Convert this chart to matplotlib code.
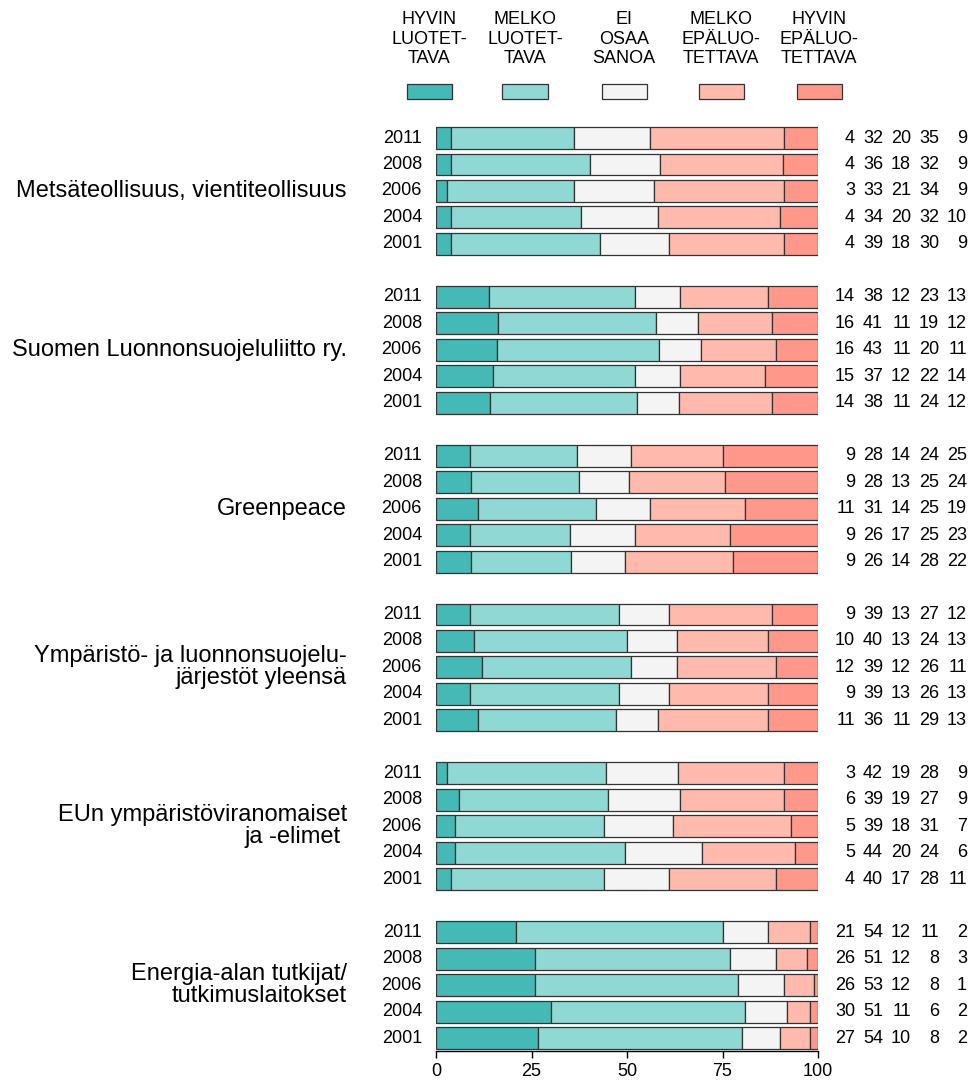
import numpy as np
import matplotlib
matplotlib.use("Agg")
from matplotlib import pyplot as plt
from matplotlib.patches import Rectangle
from matplotlib.transforms import blended_transform_factory

plt.rcParams["font.family"] = ["Liberation Sans", "DejaVu Sans"]

# data
categories = [
    "HYVIN\nLUOTET-\nTAVA",
    "MELKO\nLUOTET-\nTAVA",
    "EI\nOSAA\nSANOA",
    "MELKO\nEPÄLUO-\nTETTAVA",
    "HYVIN\nEPÄLUO-\nTETTAVA",
]
years = ["2011", "2008", "2006", "2004", "2001"]
groups = [
    "Metsäteollisuus, vientiteollisuus",
    "Suomen Luonnonsuojeluliitto ry.",
    "Greenpeace",
    "Ympäristö- ja luonnonsuojelu-\njärjestöt yleensä",
    "EUn ympäristöviranomaiset\nja -elimet ",
    "Energia-alan tutkijat/\ntutkimuslaitokset",
]
metsa = [[4, 32, 20, 35, 9], [4, 36, 18, 32, 9], [3, 33, 21, 34, 9],
         [4, 34, 20, 32, 10], [4, 39, 18, 30, 9]]
sll = [[14, 38, 12, 23, 13], [16, 41, 11, 19, 12], [16, 43, 11, 20, 11],
       [15, 37, 12, 22, 14], [14, 38, 11, 24, 12]]
greenpeace = [[9, 28, 14, 24, 25], [9, 28, 13, 25, 24], [11, 31, 14, 25, 19],
              [9, 26, 17, 25, 23], [9, 26, 14, 28, 22]]
ymparisto = [[9, 39, 13, 27, 12], [10, 40, 13, 24, 13], [12, 39, 12, 26, 11],
             [9, 39, 13, 26, 13], [11, 36, 11, 29, 13]]
eu = [[3, 42, 19, 28, 9], [6, 39, 19, 27, 9], [5, 39, 18, 31, 7],
      [5, 44, 20, 24, 6], [4, 40, 17, 28, 11]]
energia = [[21, 54, 12, 11, 2], [26, 51, 12, 8, 3], [26, 53, 12, 8, 1],
           [30, 51, 11, 6, 2], [27, 54, 10, 8, 2]]
values = [metsa, sll, greenpeace, ymparisto, eu, energia]

colors = ["#45B9B5", "#8FD8D3", "#F4F4F4", "#FFB9AD", "#FF978A"]
edge = "#333333"

W, H = 975, 1086
fig = plt.figure(figsize=(W / 100, H / 100), dpi=100)
ax = fig.add_axes([436 / W, (H - 1051) / H, (818 - 436) / W, 926.2 / H])

# Draw bars, each row normalised to 100
for g, grp in enumerate(values):
    for r, row in enumerate(grp):
        y = g * 6 + r
        row = np.array(row, dtype=float)
        pct = row / row.sum() * 100
        left = 0
        for k, p in enumerate(pct):
            ax.barh(y, p, left=left, height=0.83, color=colors[k],
                    edgecolor=edge, linewidth=0.9)
            left += p

ax.set_xlim(0, 100)
ax.set_ylim(34.49, -0.5)
for s in ["top", "right", "left"]:
    ax.spines[s].set_visible(False)
ax.spines["bottom"].set_bounds(0, 100)
ax.spines["bottom"].set_linewidth(1)
ax.set_yticks([])
ax.set_xticks([0, 25, 50, 75, 100])
ax.tick_params(axis="x", labelsize=13, length=5, width=1, pad=4)

trans = blended_transform_factory(fig.transFigure, ax.transData)
num_right = [855, 883, 911, 939, 967]
for g, grp in enumerate(values):
    ax.text(347 / W, g * 6 + 2, groups[g], transform=trans, ha="right",
            va="center", fontsize=17, linespacing=1.0)
    for r, row in enumerate(grp):
        y = g * 6 + r
        ax.text(422 / W, y, years[r], transform=trans, ha="right",
                va="center", fontsize=13)
        for k, v in enumerate(row):
            ax.text(num_right[k] / W, y, str(v), transform=trans,
                    ha="right", va="center", fontsize=13)

# legend on top
leg_x = [429.5, 525, 624, 721, 819]
for k, lab in enumerate(categories):
    fig.text(leg_x[k] / W, 1 - 11 / H, lab, ha="center", va="top",
             fontsize=13, linespacing=1.2)
    fig.patches.append(Rectangle(((leg_x[k] - 22.5) / W, 1 - 99 / H),
                                 45 / W, 15 / H, transform=fig.transFigure,
                                 facecolor=colors[k], edgecolor=edge,
                                 linewidth=0.9))

fig.savefig("out.png", dpi=100)
